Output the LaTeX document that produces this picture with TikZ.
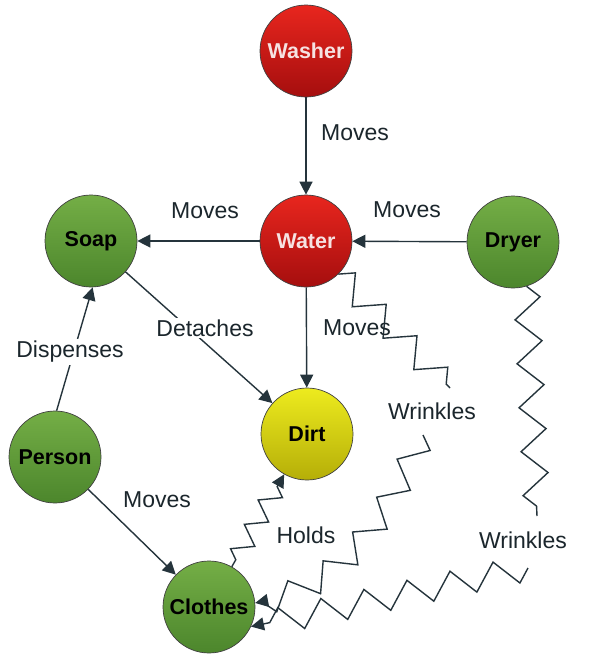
\documentclass[tikz,border=0pt]{standalone}
\usepackage{fontspec}
\setmainfont{Liberation Sans}
\usetikzlibrary{arrows.meta,decorations.pathmorphing}
\definecolor{edgec}{HTML}{25343C}
\definecolor{lblc}{HTML}{1B262C}
\definecolor{redtop}{HTML}{E8261E}
\definecolor{redbot}{HTML}{A50E0E}
\definecolor{greentop}{HTML}{74AE46}
\definecolor{greenbot}{HTML}{4C862C}
\definecolor{yeltop}{HTML}{EDEB1E}
\definecolor{yelbot}{HTML}{B5AE08}
\definecolor{washtext}{HTML}{F6E2E2}
\begin{document}
\begin{tikzpicture}[x=1pt,y=-1pt,
  ball/.style={circle, minimum size=92pt, inner sep=0pt, draw=black!75, line width=0.7pt,
    font=\fontsize{21.5}{22}\selectfont\bfseries},
  redball/.style={ball, top color=redtop, bottom color=redbot, text=washtext},
  greenball/.style={ball, top color=greentop, bottom color=greenbot, text=black},
  yelball/.style={ball, top color=yeltop, bottom color=yelbot, text=black},
  lbl/.style={font=\fontsize{23}{24}\selectfont, text=lblc, inner sep=2pt},
  tip/.style={-{Triangle[length=13pt,width=13pt]}},
  arr/.style={draw=edgec, line width=1.4pt, tip},
  zz/.style={draw=edgec, line width=1.4pt, decorate,
    decoration={zigzag, segment length=44pt, amplitude=13pt}},
  zzh/.style={draw=edgec, line width=1.4pt, decorate,
    decoration={zigzag, segment length=28pt, amplitude=10pt, pre length=8pt, post length=10pt}},
]
\useasboundingbox (0,0) rectangle (596,656);
\fill[white] (0,0) rectangle (596,656);

\node[redball] (washer) at (306,51) {Washer};
\node[redball] (water) at (306,241) {Water};
\node[greenball] (soap) at (91,241) {Soap};
\node[greenball] (dryer) at (513,242) {Dryer};
\node[yelball] (dirt) at (307,434) {Dirt};
\node[greenball] (person) at (55,457) {Person};
\node[greenball] (clothes) at (209,607) {Clothes};

\coordinate (w1a) at (450,388);
\coordinate (w1b) at (423,435);
\coordinate (w2a) at (537,516);
\coordinate (w2b) at (528,568);

\draw[arr] (washer) -- (water);
\draw[arr] (water) -- (soap);
\draw[arr] (dryer) -- (water);
\draw[arr] (water) -- (dirt);
\draw[arr] (soap) -- (dirt);
\draw[arr] (person.88) -- (soap.-88);
\draw[arr] (person) -- (clothes);
\draw[zzh, tip] (clothes) -- (dirt);
\draw[zz] (water) -- (w1a);
\draw[zz, tip] (w1b) to[out=-115, in=10] (clothes.5);
\draw[zz] (dryer.-73) -- (w2a);
\draw[zz, tip] (w2b) -- (clothes.-25);

\node[lbl] (l1) at (355,133) {Moves};
\node[lbl] (l2) at (205,211) {Moves};
\node[lbl] (l3) at (407,210) {Moves};
\node[lbl] (l4) at (357,328) {Moves};
\node[lbl, fill=white] (l5) at (205,328) {Detaches};
\node[lbl, fill=white] (l6) at (70,352) {Dispenses};
\node[lbl] (l7) at (157,500) {Moves};
\node[lbl] (l8) at (306,535) {Holds};
\node[lbl] (l9) at (432,411) {Wrinkles};
\node[lbl] (l10) at (523,540) {Wrinkles};
\end{tikzpicture}
\end{document}
